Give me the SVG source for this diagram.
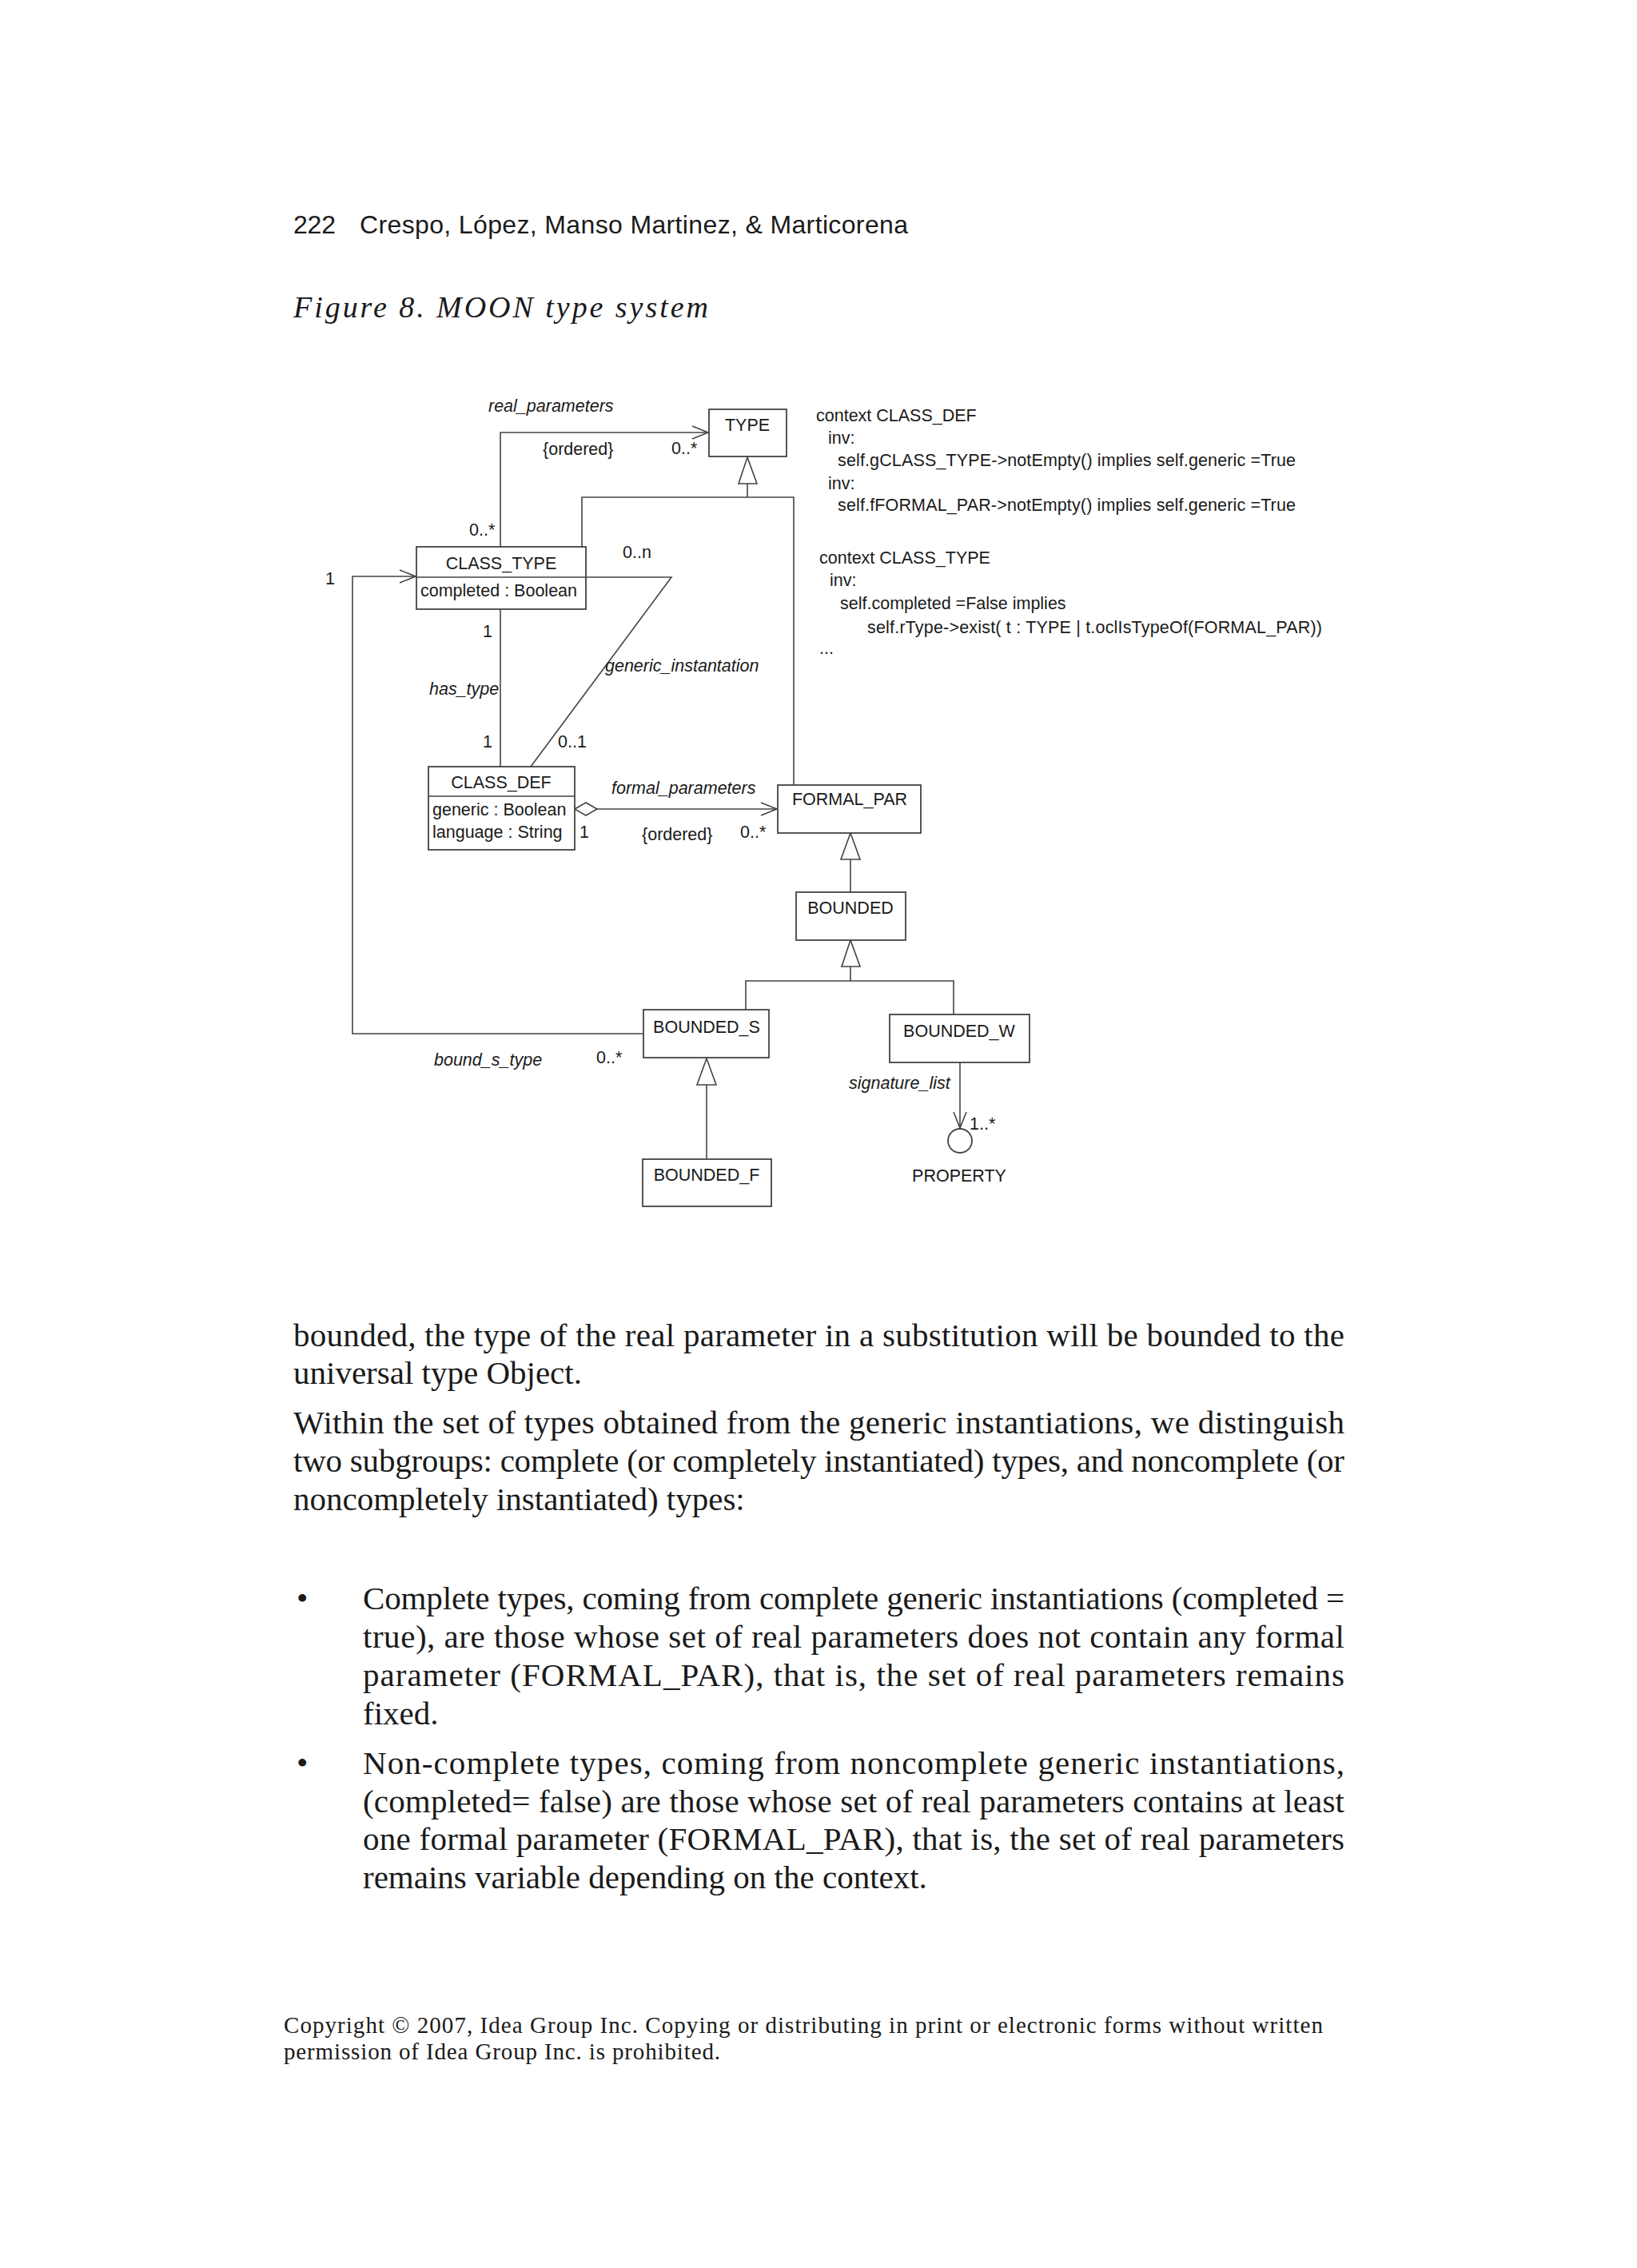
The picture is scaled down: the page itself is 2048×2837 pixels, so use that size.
<svg xmlns="http://www.w3.org/2000/svg" width="2048" height="2837" viewBox="0 0 2048 2837">
<style>
.hd{font-family:"Liberation Sans",Arial,sans-serif;font-size:32px;fill:#1a1a1a}
.cap{font-family:"Liberation Serif","Times New Roman",serif;font-size:38px;font-style:italic;fill:#1a1a1a}
.body{font-family:"Liberation Serif","Times New Roman",serif;font-size:41px;fill:#1a1a1a}
.copy{font-family:"Liberation Serif","Times New Roman",serif;font-size:29px;fill:#1a1a1a}
.t{font-family:"Liberation Sans",Arial,sans-serif;font-size:21.5px;fill:#1a1a1a}
.i{font-style:italic}
.c{text-anchor:middle}
.box{fill:#fff;stroke:#444;stroke-width:1.8}
.ln{fill:none;stroke:#444;stroke-width:1.6}
.tri{fill:#fff;stroke:#444;stroke-width:1.6}
</style>
<defs>
<marker id="open" markerUnits="userSpaceOnUse" markerWidth="24" markerHeight="20" refX="20" refY="8" orient="auto" overflow="visible">
<path d="M0,0 L20,8 L0,16" fill="none" stroke="#444" stroke-width="1.6"/>
</marker>
</defs>
<rect width="2048" height="2837" fill="#fff"/>

<text class="hd" x="367" y="292" textLength="53" lengthAdjust="spacing">222</text>
<text class="hd" x="450" y="292" textLength="686" lengthAdjust="spacing">Crespo, López, Manso Martinez, &amp; Marticorena</text>
<text class="cap" x="367" y="397" textLength="519" lengthAdjust="spacing">Figure 8. MOON type system</text>

<g id="connectors">
<polyline class="ln" points="626,684 626,541 886,541" marker-end="url(#open)"/>
<polygon class="tri" points="935,572 924,605 947,605"/>
<polyline class="ln" points="935,605 935,622"/>
<polyline class="ln" points="728,684 728,622 993,622 993,982"/>
<polyline class="ln" points="805,1293 441,1293 441,721 520,721" marker-end="url(#open)"/>
<line class="ln" x1="626" y1="762" x2="626" y2="959"/>
<polyline class="ln" points="733,722 840,722 664,959"/>
<polygon class="tri" points="719,1012 733,1004 747,1012 733,1020"/>
<line class="ln" x1="747" y1="1012" x2="972" y2="1012" marker-end="url(#open)"/>
<polygon class="tri" points="1064,1042 1052,1075 1076,1075"/>
<line class="ln" x1="1064" y1="1075" x2="1064" y2="1116"/>
<polygon class="tri" points="1064,1176 1053,1209 1076,1209"/>
<line class="ln" x1="1064" y1="1209" x2="1064" y2="1227"/>
<polyline class="ln" points="933,1263 933,1227 1193,1227 1193,1269"/>
<polygon class="tri" points="884,1324 872,1357 896,1357"/>
<line class="ln" x1="884" y1="1357" x2="884" y2="1450"/>
<line class="ln" x1="1201" y1="1329" x2="1201" y2="1411" marker-end="url(#open)"/>
</g>

<g id="labels">
<text class="t i" x="611" y="515">real_parameters</text>
<text class="t" x="679" y="569">{ordered}</text>
<text class="t" x="840" y="568">0..*</text>
<text class="t" x="587" y="670">0..*</text>
<text class="t" x="779" y="698">0..n</text>
<text class="t" x="407" y="731">1</text>
<text class="t" x="604" y="797">1</text>
<text class="t i" x="757" y="840">generic_instantation</text>
<text class="t i" x="537" y="869">has_type</text>
<text class="t" x="604" y="935">1</text>
<text class="t" x="698" y="935">0..1</text>
<text class="t i" x="765" y="993">formal_parameters</text>
<text class="t" x="725" y="1048">1</text>
<text class="t" x="803" y="1051">{ordered}</text>
<text class="t" x="926" y="1048">0..*</text>
<text class="t i" x="543" y="1333">bound_s_type</text>
<text class="t" x="746" y="1330">0..*</text>
<text class="t i" x="1062" y="1362">signature_list</text>
<text class="t" x="1213" y="1413">1..*</text>
</g>

<g id="TYPE">
<rect class="box" x="887" y="512" width="97" height="59"/>
<text class="t c" x="935" y="539">TYPE</text>
</g>
<g id="CLASS_TYPE">
<rect class="box" x="521" y="684" width="212" height="78"/>
<line class="ln" x1="521" y1="722" x2="733" y2="722"/>
<text class="t c" x="627" y="712">CLASS_TYPE</text>
<text class="t" x="526" y="746">completed : Boolean</text>
</g>
<g id="CLASS_DEF">
<rect class="box" x="536" y="959" width="183" height="104"/>
<line class="ln" x1="536" y1="996" x2="719" y2="996"/>
<text class="t c" x="627" y="986">CLASS_DEF</text>
<text class="t" x="541" y="1020">generic : Boolean</text>
<text class="t" x="541" y="1048">language : String</text>
</g>
<g id="FORMAL_PAR">
<rect class="box" x="973" y="982" width="179" height="60"/>
<text class="t c" x="1063" y="1007">FORMAL_PAR</text>
</g>
<g id="BOUNDED">
<rect class="box" x="996" y="1116" width="137" height="60"/>
<text class="t c" x="1064" y="1143">BOUNDED</text>
</g>
<g id="BOUNDED_S">
<rect class="box" x="805" y="1263" width="157" height="60"/>
<text class="t c" x="884" y="1292">BOUNDED_S</text>
</g>
<g id="BOUNDED_W">
<rect class="box" x="1113" y="1269" width="175" height="60"/>
<text class="t c" x="1200" y="1297">BOUNDED_W</text>
</g>
<g id="BOUNDED_F">
<rect class="box" x="804" y="1450" width="161" height="59"/>
<text class="t c" x="884" y="1477">BOUNDED_F</text>
</g>
<g id="PROPERTY">
<circle class="box" cx="1201" cy="1427" r="15"/>
<text class="t c" x="1200" y="1478">PROPERTY</text>
</g>

<g id="constraints">
<text class="t" x="1021" y="527">context CLASS_DEF</text>
<text class="t" x="1036" y="555">inv:</text>
<text class="t" x="1048" y="583" textLength="573" lengthAdjust="spacing">self.gCLASS_TYPE-&gt;notEmpty() implies self.generic =True</text>
<text class="t" x="1036" y="612">inv:</text>
<text class="t" x="1048" y="639" textLength="573" lengthAdjust="spacing">self.fFORMAL_PAR-&gt;notEmpty() implies self.generic =True</text>
<text class="t" x="1025" y="705">context CLASS_TYPE</text>
<text class="t" x="1038" y="733">inv:</text>
<text class="t" x="1051" y="762">self.completed =False implies</text>
<text class="t" x="1085" y="792" textLength="569" lengthAdjust="spacing">self.rType-&gt;exist( t : TYPE | t.oclIsTypeOf(FORMAL_PAR))</text>
<text class="t" x="1025" y="818">...</text>
</g>

<g id="body">
<text class="body" x="367" y="1684" textLength="1315" lengthAdjust="spacing">bounded, the type of the real parameter in a substitution will be bounded to the</text>
<text class="body" x="367" y="1731">universal type Object.</text>
<text class="body" x="367" y="1793" textLength="1315" lengthAdjust="spacing">Within the set of types obtained from the generic instantiations, we distinguish</text>
<text class="body" x="367" y="1841" textLength="1315" lengthAdjust="spacing">two subgroups: complete (or completely instantiated) types, and noncomplete (or</text>
<text class="body" x="367" y="1889">noncompletely instantiated) types:</text>

<text class="body" x="371" y="2013">•</text>
<text class="body" x="454" y="2013" textLength="1228" lengthAdjust="spacing">Complete types, coming from complete generic instantiations (completed =</text>
<text class="body" x="454" y="2061" textLength="1228" lengthAdjust="spacing">true), are those whose set of real parameters does not contain any formal</text>
<text class="body" x="454" y="2109" textLength="1228" lengthAdjust="spacing">parameter (FORMAL_PAR), that is, the set of real parameters remains</text>
<text class="body" x="454" y="2157">fixed.</text>

<text class="body" x="371" y="2219">•</text>
<text class="body" x="454" y="2219" textLength="1228" lengthAdjust="spacing">Non-complete types, coming from noncomplete generic instantiations,</text>
<text class="body" x="454" y="2267" textLength="1228" lengthAdjust="spacing">(completed= false) are those whose set of real parameters contains at least</text>
<text class="body" x="454" y="2314" textLength="1228" lengthAdjust="spacing">one formal parameter (FORMAL_PAR), that is, the set of real parameters</text>
<text class="body" x="454" y="2362">remains variable depending on the context.</text>
</g>

<g id="copyright">
<text class="copy" x="355" y="2543" textLength="1300" lengthAdjust="spacing">Copyright © 2007, Idea Group Inc. Copying or distributing in print or electronic forms without written</text>
<text class="copy" x="355" y="2576" textLength="546" lengthAdjust="spacing">permission of Idea Group Inc. is prohibited.</text>
</g>
</svg>
